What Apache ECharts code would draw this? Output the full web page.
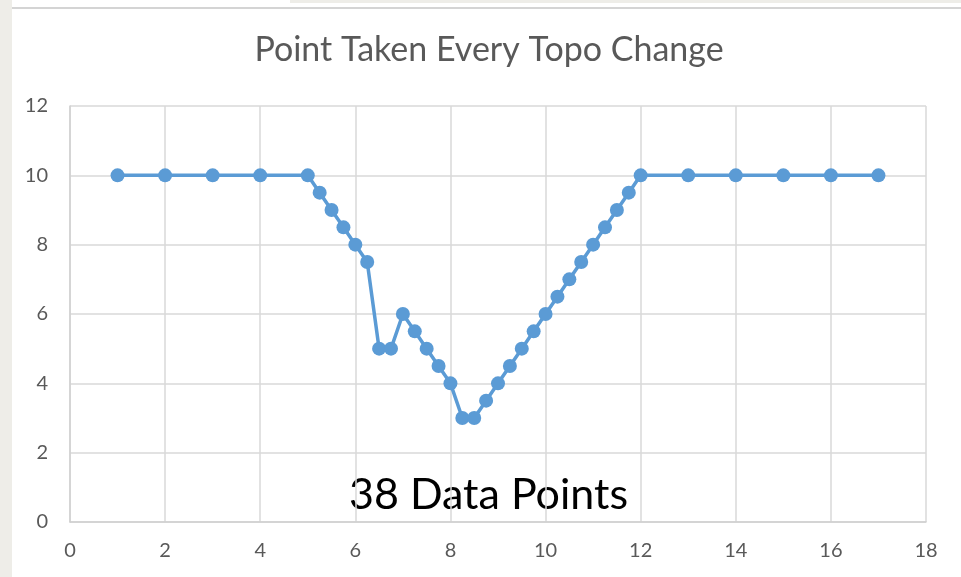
<!DOCTYPE html>
<html>
<head>
<meta charset="utf-8">
<style>
  html, body { margin: 0; padding: 0; background: #fff; }
  #main { width: 961px; height: 577px; }
</style>
<script src="https://cdn.jsdelivr.net/npm/echarts@6/dist/echarts.min.js"></script>
</head>
<body>
<div id="main"></div>
<script>
// distance along the transect and the topo height
var xValues = [1, 2, 3, 4, 5,
  5.25, 5.5, 5.75, 6, 6.25, 6.5, 6.75, 7, 7.25, 7.5, 7.75, 8,
  8.25, 8.5, 8.75, 9, 9.25, 9.5, 9.75, 10, 10.25, 10.5, 10.75, 11,
  11.25, 11.5, 11.75, 12,
  13, 14, 15, 16, 17];
var yValues = [10, 10, 10, 10, 10,
  9.5, 9, 8.5, 8, 7.5, 5, 5, 6, 5.5, 5, 4.5, 4,
  3, 3, 3.5, 4, 4.5, 5, 5.5, 6, 6.5, 7, 7.5, 8,
  8.5, 9, 9.5, 10,
  10, 10, 10, 10, 10];

var chartTitle = 'Point Taken Every Topo Change';
var note = '38 Data Points';

var points = xValues.map(function (x, i) { return [x, yValues[i]]; });

var myChart = echarts.init(document.getElementById('main'));
myChart.setOption({
  backgroundColor: '#ffffff',
  animation: false,
  title: {
    text: chartTitle,
    left: 484,
    textAlign: 'center',
    top: 28,
    textStyle: { fontFamily: 'Lato', fontSize: 34, fontWeight: 'normal', color: '#595959' }
  },
  grid: { left: 70, right: 35, top: 106, bottom: 55 },
  xAxis: {
    type: 'value',
    min: 0, max: 18, interval: 2,
    axisLine: { show: true, lineStyle: { color: '#d0d0d0', width: 1.5 } },
    axisTick: { show: false },
    axisLabel: { color: '#595959', fontFamily: 'Lato', fontSize: 20, margin: 19 },
    splitLine: { show: true, lineStyle: { color: '#d9d9d9', width: 1.5 } }
  },
  yAxis: {
    type: 'value',
    min: 0, max: 12, interval: 2,
    axisLine: { show: true, lineStyle: { color: '#d0d0d0', width: 1.5 } },
    axisTick: { show: false },
    axisLabel: { color: '#595959', fontFamily: 'Lato', fontSize: 20, margin: 22 },
    splitLine: { show: true, lineStyle: { color: '#d9d9d9', width: 1.5 } }
  },
  graphic: [
    { type: 'rect', shape: { x: 0, y: 0, width: 12, height: 577 }, style: { fill: '#eeede8' } },
    { type: 'rect', shape: { x: 290, y: 0, width: 671, height: 3 }, style: { fill: '#eeede8' } },
    { type: 'line', shape: { x1: 12, y1: 8, x2: 961, y2: 8 }, style: { stroke: '#d4d4d4', lineWidth: 2 } },
    {
      type: 'text', left: 349, top: 474,
      style: { text: note, fontFamily: 'Lato', fontSize: 43, fill: '#000000' }
    }
  ],
  series: [{
    type: 'line',
    data: points,
    symbol: 'circle',
    symbolSize: 14,
    lineStyle: { color: '#5b9bd5', width: 3.5 },
    itemStyle: { color: '#5b9bd5' }
  }]
});
</script>
</body>
</html>
